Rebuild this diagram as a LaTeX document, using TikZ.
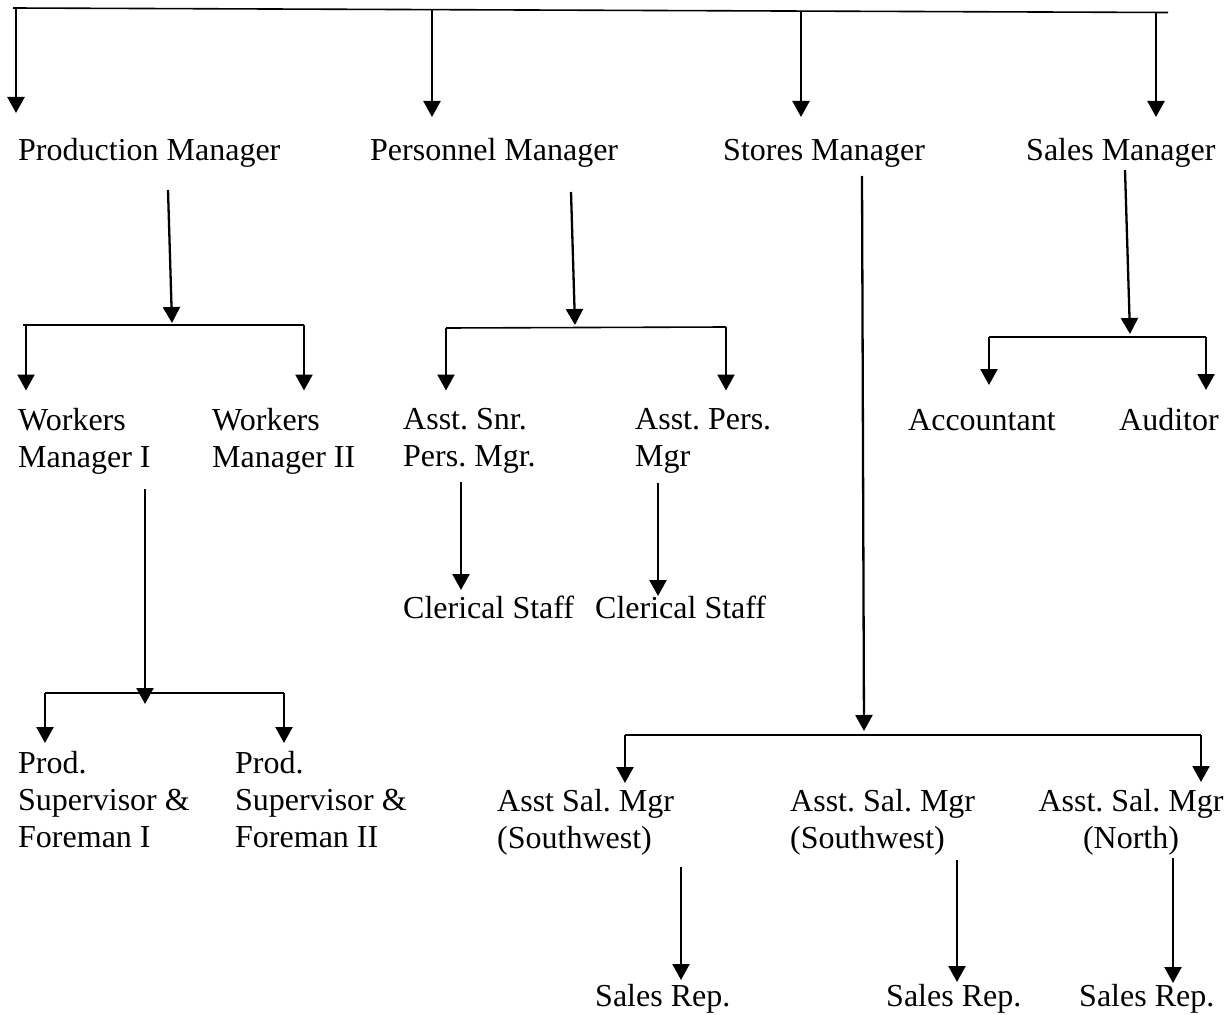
\documentclass[tikz,border=0pt]{standalone}
\usepackage{fontspec}
\setmainfont{Liberation Serif}
\usetikzlibrary{arrows.meta}

\begin{document}
\frenchspacing
\begin{tikzpicture}[x=1pt, y=-1pt,
    lbl/.style={anchor=north west, inner sep=0pt, align=left,
      font=\fontsize{32}{37}\selectfont, execute at begin node=\strut},
    arr/.style={-{Triangle[width=17pt,length=16pt]}, line width=2.3pt},
    bus/.style={line width=1.6pt}
]
  \useasboundingbox (0,0) rectangle (1228,1014);

  % top level bus
  \coordinate (top-l) at (13,8);
  \coordinate (top-r) at (1168,12.5);
  \coordinate (t1) at (16,7);
  \coordinate (t2) at (432,9.6);
  \coordinate (t3) at (801,11);
  \coordinate (t4) at (1156,12.5);
  \draw[bus] (top-l) -- (top-r);

  % managers
  \node[lbl] (pm)  at (18,134)   {Production Manager};
  \node[lbl] (psm) at (370,134)  {Personnel Manager};
  \node[lbl] (sm)  at (723,134)  {Stores Manager};
  \node[lbl] (slm) at (1026,134) {Sales Manager};

  \draw[arr, shorten >=21pt] (t1) -- (t1 |- pm.north);
  \draw[arr, shorten >=17pt] (t2) -- (t2 |- psm.north);
  \draw[arr, shorten >=17pt] (t3) -- (t3 |- sm.north);
  \draw[arr, shorten >=17pt] (t4) -- (t4 |- slm.north);

  % production branch
  \coordinate (pm-out) at (168,190);
  \coordinate (pb-m)   at (172,323);
  \coordinate (pb-l)   at (23,325);
  \coordinate (pb-r)   at (304,325);
  \draw[bus] (pb-l) -- (pb-r);
  \draw[arr] (pm-out) -- (pb-m);

  \node[lbl] (wm1) at (18,408.5)  {Workers\\Manager I};
  \node[lbl] (wm2) at (212,408.5) {Workers\\Manager II};
  \draw[arr, shorten >=18pt] ([xshift=3pt]pb-l) -- ([xshift=3pt]pb-l |- wm1.north);
  \draw[arr, shorten >=18pt] (pb-r) -- (pb-r |- wm2.north);

  \coordinate (wm-out) at (145,489);
  \coordinate (wb-m)   at (145,704);
  \coordinate (wb-l)   at (45,693);
  \coordinate (wb-r)   at (284,693);
  \draw[bus] (wb-l) -- (wb-r);
  \draw[arr] (wm-out) -- (wb-m);

  \node[lbl] (ps1) at (18,751)  {Prod.\\Supervisor \&\\Foreman I};
  \node[lbl] (ps2) at (235,751) {Prod.\\Supervisor \&\\Foreman II};
  \draw[arr, shorten >=8pt] (wb-l) -- (wb-l |- ps1.north);
  \draw[arr, shorten >=8pt] (wb-r) -- (wb-r |- ps2.north);

  % personnel branch
  \coordinate (psm-out) at (571,192);
  \coordinate (psb-m)   at (575,325);
  \coordinate (psb-l)   at (446,328);
  \coordinate (psb-r)   at (726,327);
  \draw[bus] (psb-l) -- (psb-r);
  \draw[arr] (psm-out) -- (psb-m);

  \node[lbl] (asn) at (403,408.5) {Asst. Snr.\\Pers. Mgr.};
  \node[lbl] (apm) at (635,408.5) {Asst. Pers.\\Mgr};
  \draw[arr, shorten >=18pt] (psb-l) -- (psb-l |- asn.north);
  \draw[arr, shorten >=18pt] (psb-r) -- (psb-r |- apm.north);

  \node[lbl] (cs1) at (403,592) {Clerical Staff};
  \node[lbl] (cs2) at (595,592) {Clerical Staff};
  \coordinate (asn-out) at (461,482);
  \coordinate (apm-out) at (658,483);
  \draw[arr, shorten >=2pt] (asn-out) -- (asn-out |- cs1.north);
  \draw[arr, shorten >=-4pt] (apm-out) -- (apm-out |- cs2.north);

  % stores branch
  \coordinate (sm-out) at (862,176);
  \coordinate (stb-m)  at (864,731);
  \coordinate (stb-l)  at (625,735);
  \coordinate (stb-r)  at (1201,735);
  \draw[bus] (stb-l) -- (stb-r);
  \draw[arr] (sm-out) -- (stb-m);

  \node[lbl] (as1) at (497,789) {Asst Sal. Mgr\\(Southwest)};
  \node[lbl] (as2) at (790,789) {Asst. Sal. Mgr\\(Southwest)};
  \node[lbl, anchor=north, align=center] (as3) at (1131,789) {Asst. Sal. Mgr\\(North)};
  \draw[arr, shorten >=6pt] (stb-l) -- (stb-l |- as1.north);
  \draw[arr, shorten >=7pt] (stb-r) -- (stb-r |- as3.north);

  \node[lbl] (sr1) at (595,980)  {Sales Rep.};
  \node[lbl] (sr2) at (886,980)  {Sales Rep.};
  \node[lbl] (sr3) at (1079,980) {Sales Rep.};
  \coordinate (as1-out) at (681,867);
  \coordinate (as2-out) at (957,860);
  \coordinate (as3-out) at (1173,858);
  \draw[arr] (as1-out) -- (as1-out |- sr1.north);
  \draw[arr, shorten >=-2pt] (as2-out) -- (as2-out |- sr2.north);
  \draw[arr, shorten >=-3pt] (as3-out) -- (as3-out |- sr3.north);

  % sales branch
  \coordinate (slm-out) at (1125,170);
  \coordinate (slb-m)   at (1130,334);
  \coordinate (slb-l)   at (989,337);
  \coordinate (slb-r)   at (1206,337);
  \draw[bus] (slb-l) -- (slb-r);
  \draw[arr] (slm-out) -- (slb-m);

  \node[lbl] (acc) at (908,404)  {Accountant};
  \node[lbl] (aud) at (1119,404) {Auditor};
  \draw[arr, shorten >=19pt] (slb-l) -- (slb-l |- acc.north);
  \draw[arr, shorten >=14pt] (slb-r) -- (slb-r |- aud.north);
\end{tikzpicture}
\end{document}
